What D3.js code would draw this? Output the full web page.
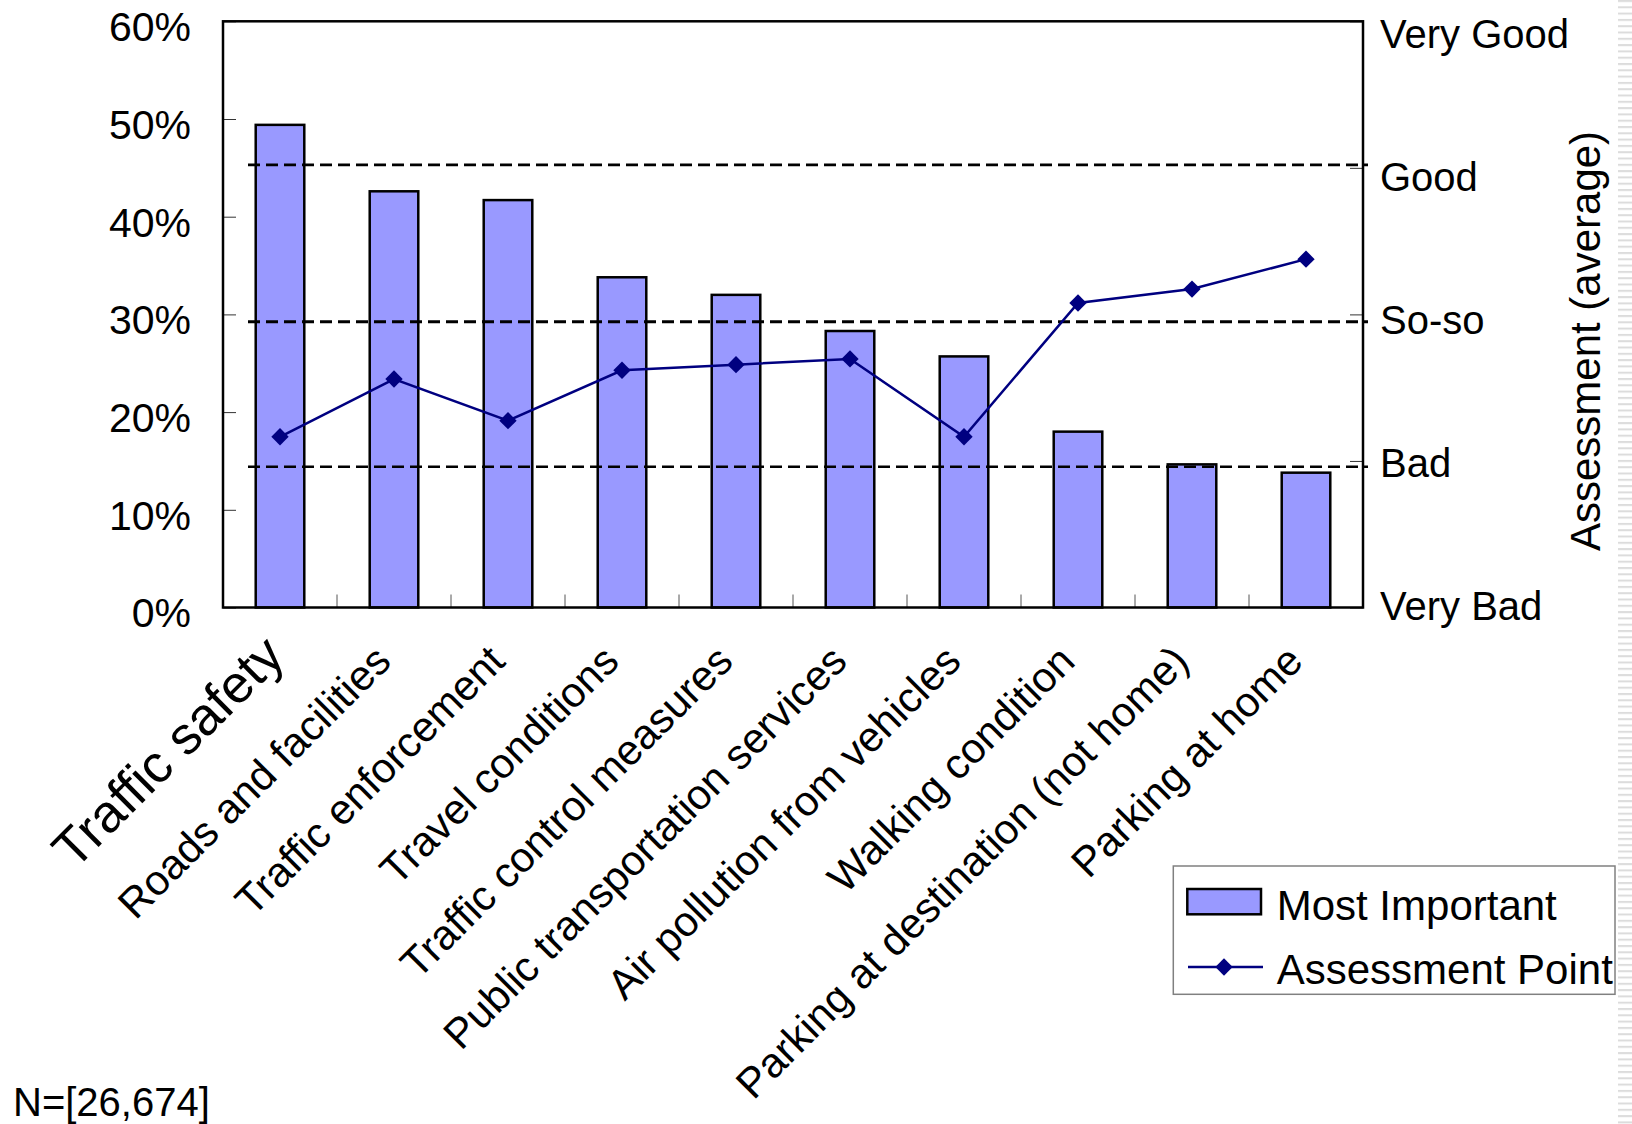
<!DOCTYPE html>
<meta charset="utf-8">
<head>
  <script src="https://d3js.org/d3.v7.min.js"></script>
  <style>
    body { margin: 0; background: #fff; font-family: 'Liberation Sans', Arial, sans-serif; }
  </style>
</head>
<div id="my_dataviz"></div>
<script>
  // data
  var categories = ["Traffic safety", "Roads and facilities", "Traffic enforcement",
    "Travel conditions", "Traffic control measures", "Public transportation services",
    "Air pollution from vehicles", "Walking condition",
    "Parking at destination (not home)", "Parking at home"];
  var mostImportant = [0.494, 0.426, 0.417, 0.338, 0.320, 0.283, 0.257, 0.180, 0.1465, 0.138];
  var assessment = [2.165, 2.559, 2.275, 2.619, 2.657, 2.696, 2.165, 3.078, 3.173, 3.377];
  var leftTicks = [0, 0.1, 0.2, 0.3, 0.4, 0.5, 0.6];
  var rightTicks = [1, 2, 3, 4, 5];
  var rightLabels = ["Very Bad", "Bad", "So-so", "Good", "Very Good"];
  var refLines = [4.02, 2.95, 1.96];   // dashed lines Good / So-so / Bad
  var sampleNote = "N=[26,674]";

  var W = 1632, H = 1124;
  var margin = { top: 21.3, right: 269, bottom: 516.5, left: 223 },
    width = W - margin.left - margin.right,
    height = H - margin.top - margin.bottom;

  var svg = d3.select("#my_dataviz")
    .append("svg")
    .attr("width", W)
    .attr("height", H);

  // striped strip on the far right
  var defs = svg.append("defs");
  var pat = defs.append("pattern")
    .attr("id", "stripes")
    .attr("patternUnits", "userSpaceOnUse")
    .attr("width", 14).attr("height", 6.3);
  pat.append("rect").attr("width", 14).attr("height", 2).attr("fill", "#dcdcdc");
  svg.append("rect")
    .attr("x", 1618).attr("y", 0)
    .attr("width", 14).attr("height", H)
    .attr("fill", "url(#stripes)");

  var g = svg.append("g")
    .attr("transform", "translate(" + margin.left + "," + margin.top + ")");

  var x = d3.scaleBand().domain(categories).range([0, width]).padding(0);
  var y = d3.scaleLinear().domain([0, 0.6]).range([height, 0]);
  var yR = d3.scaleLinear().domain([1, 5]).range([height, 0]);
  var yLab = d3.scaleLinear().domain([1, 5]).range([height - 1, 13.1]);

  var barW = x.bandwidth() * 0.426;

  // bars
  g.selectAll(".bar")
    .data(mostImportant)
    .enter().append("rect")
    .attr("x", function (d, i) { return x(categories[i]) + x.bandwidth() / 2 - barW / 2; })
    .attr("y", function (d) { return y(d); })
    .attr("width", barW)
    .attr("height", function (d) { return height - y(d); })
    .attr("fill", "#9999ff")
    .attr("stroke", "#000")
    .attr("stroke-width", 2.5);

  // dashed reference lines
  g.selectAll(".ref")
    .data(refLines)
    .enter().append("line")
    .attr("x1", 25).attr("x2", width + 5)
    .attr("y1", function (d) { return yR(d); })
    .attr("y2", function (d) { return yR(d); })
    .attr("stroke", "#000")
    .attr("stroke-width", function (d, i) { return i == 1 ? 3.2 : 2.6; })
    .attr("stroke-dasharray", "12,6");

  // inner ticks
  g.append("g")
    .call(d3.axisLeft(y).tickValues(leftTicks).tickSize(-13).tickFormat(""))
    .call(function (s) { s.select(".domain").remove(); s.selectAll("line").attr("stroke", "#333"); });
  g.append("g")
    .attr("transform", "translate(" + width + ",0)")
    .call(d3.axisRight(yR).tickValues(rightTicks).tickSize(-13).tickFormat(""))
    .call(function (s) { s.select(".domain").remove(); s.selectAll("line").attr("stroke", "#333"); });
  var bounds = categories.slice(1).map(function (c) { return x(c); });
  g.selectAll(".xtick")
    .data(bounds)
    .enter().append("line")
    .attr("x1", function (d) { return d; }).attr("x2", function (d) { return d; })
    .attr("y1", height).attr("y2", height - 13)
    .attr("stroke", "#555").attr("stroke-width", 1);

  // frame
  g.append("rect")
    .attr("width", width).attr("height", height)
    .attr("fill", "none").attr("stroke", "#000").attr("stroke-width", 2.5);

  // assessment line
  var cx = function (i) { return x(categories[i]) + x.bandwidth() / 2; };
  g.append("path")
    .datum(assessment)
    .attr("fill", "none")
    .attr("stroke", "#000080")
    .attr("stroke-width", 2.5)
    .attr("d", d3.line()
      .x(function (d, i) { return cx(i); })
      .y(function (d) { return yR(d); }));
  var diamond = d3.symbol().type(d3.symbolSquare).size(150);
  g.selectAll(".pt")
    .data(assessment)
    .enter().append("path")
    .attr("d", diamond)
    .attr("fill", "#000080")
    .attr("transform", function (d, i) { return "translate(" + cx(i) + "," + yR(d) + ") rotate(45)"; });

  // left tick labels
  g.selectAll(".ylab")
    .data(leftTicks)
    .enter().append("text")
    .attr("x", -32)
    .attr("y", function (d) { return y(d) + 6; })
    .attr("dominant-baseline", "central")
    .attr("text-anchor", "end")
    .style("font-size", "41px")
    .text(function (d) { return d3.format(".0%")(d); });

  // right tick labels
  g.selectAll(".rlab")
    .data(rightTicks)
    .enter().append("text")
    .attr("x", width + 17)
    .attr("y", function (d) { return yLab(d); })
    .attr("dominant-baseline", "central")
    .style("font-size", "40px")
    .text(function (d, i) { return rightLabels[i]; });

  // category labels, rotated
  g.selectAll(".xlab")
    .data(categories)
    .enter().append("text")
    .attr("text-anchor", "end")
    .style("font-size", function (d, i) { return i == 0 ? "53px" : "42px"; })
    .attr("transform", function (d, i) {
      var px = cx(i) + (i == 0 ? 7 : -1);
      var py = height + (i == 0 ? 51 : 56);
      return "translate(" + px + "," + py + ") rotate(-45)";
    })
    .text(function (d) { return d; });

  // right axis title
  svg.append("text")
    .attr("text-anchor", "middle")
    .attr("transform", "translate(1600,341) rotate(-90)")
    .style("font-size", "42px")
    .text("Assessment (average)");

  // legend
  var lg = svg.append("g").attr("transform", "translate(1173.3,866)");
  lg.append("rect")
    .attr("width", 441.7).attr("height", 128.3)
    .attr("fill", "#fff").attr("stroke", "#808080").attr("stroke-width", 1.5);
  lg.append("rect")
    .attr("x", 14).attr("y", 23).attr("width", 73.7).attr("height", 25.3)
    .attr("fill", "#9999ff").attr("stroke", "#000").attr("stroke-width", 2.5);
  lg.append("text").attr("x", 103.4).attr("y", 54).style("font-size", "42px").text("Most Important");
  lg.append("line")
    .attr("x1", 14.7).attr("x2", 89.7).attr("y1", 101).attr("y2", 101)
    .attr("stroke", "#000080").attr("stroke-width", 2.5);
  lg.append("path")
    .attr("d", diamond)
    .attr("fill", "#000080")
    .attr("transform", "translate(50.7,101) rotate(45)");
  lg.append("text").attr("x", 103.4).attr("y", 118).style("font-size", "42px").text("Assessment Point");

  // sample size note
  svg.append("text")
    .attr("x", 13).attr("y", 1116)
    .style("font-size", "40px")
    .text(sampleNote);
</script>
